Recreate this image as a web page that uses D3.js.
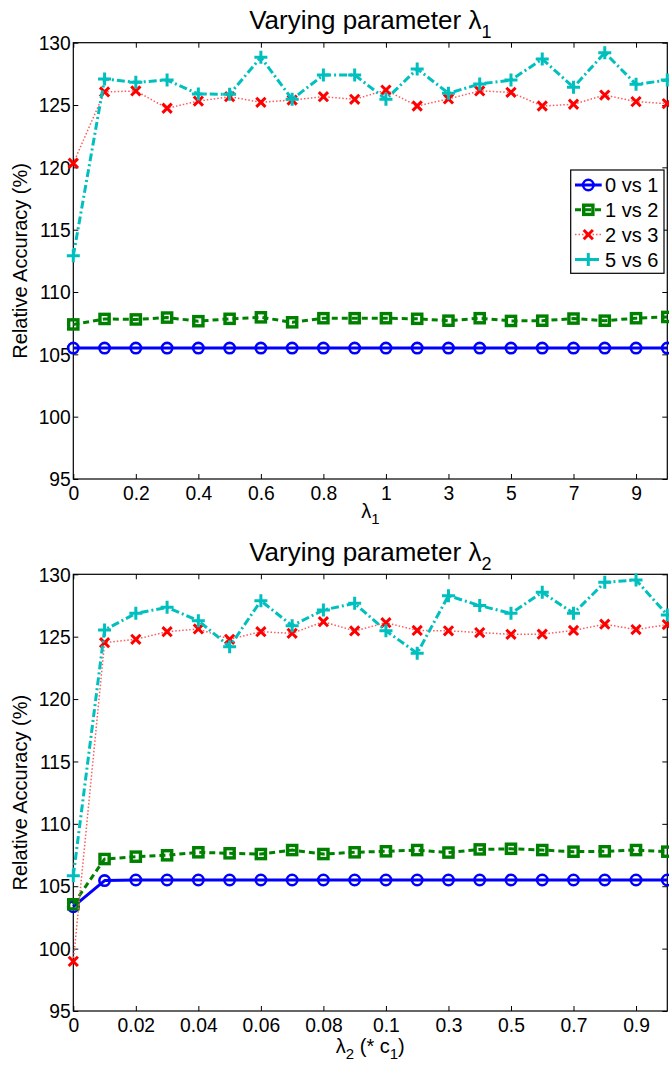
<!DOCTYPE html>
<html>
<head>
<meta charset="utf-8">
<script src="https://cdn.jsdelivr.net/npm/d3@7"></script>
<style>
  html, body { margin: 0; padding: 0; background: #fff; }
  svg { display: block; }
  text { font-family: "Liberation Sans", Arial, Helvetica, sans-serif; fill: #000; }
</style>
</head>
<body>
<svg id="fig" width="669" height="1068"></svg>
<script>
// ---- data ----
const lambda1Values = ["0","0.1","0.2","0.3","0.4","0.5","0.6","0.7","0.8","0.9",
                       "1","2","3","4","5","6","7","8","9","10"];
const lambda2Values = ["0","0.01","0.02","0.03","0.04","0.05","0.06","0.07","0.08","0.09",
                       "0.1","0.2","0.3","0.4","0.5","0.6","0.7","0.8","0.9","1"];
const lambda1Ticks = ["0","0.2","0.4","0.6","0.8","1","3","5","7","9"];
const lambda2Ticks = ["0","0.02","0.04","0.06","0.08","0.1","0.3","0.5","0.7","0.9"];
const yTicks = [95, 100, 105, 110, 115, 120, 125, 130];
const seriesNames = ["0 vs 1", "1 vs 2", "2 vs 3", "5 vs 6"];

// varying lambda1
const l1_0vs1 = [105.5,105.5,105.5,105.5,105.5,105.5,105.5,105.5,105.5,105.5,
                 105.5,105.5,105.5,105.5,105.5,105.5,105.5,105.5,105.5,105.5];
const l1_1vs2 = [107.4,107.84,107.8,107.95,107.66,107.85,107.97,107.57,107.9,107.9,
                 107.9,107.85,107.7,107.9,107.68,107.7,107.87,107.7,107.9,108.0];
const l1_2vs3 = [120.33,126.05,126.13,124.74,125.32,125.67,125.22,125.4,125.67,125.46,
                 126.2,124.92,125.49,126.13,126.02,124.92,125.06,125.8,125.27,125.11];
const l1_5vs6 = [112.9,127.09,126.82,127.0,125.89,125.86,128.83,125.46,127.41,127.41,
                 125.46,127.9,125.94,126.69,127.0,128.69,126.42,129.2,126.66,127.0];

// varying lambda2
const l2_0vs1 = [103.36,105.45,105.5,105.5,105.5,105.5,105.5,105.5,105.5,105.5,
                 105.5,105.5,105.5,105.5,105.5,105.5,105.5,105.5,105.5,105.5];
const l2_1vs2 = [103.55,107.18,107.37,107.48,107.72,107.64,107.58,107.9,107.58,107.72,
                 107.8,107.9,107.7,107.95,108.0,107.9,107.77,107.8,107.9,107.77];
const l2_2vs3 = [98.98,124.52,124.79,125.4,125.62,124.79,125.4,125.27,126.2,125.46,
                 126.12,125.5,125.47,125.33,125.19,125.2,125.5,126.0,125.57,125.97];
const l2_5vs6 = [105.84,125.54,126.87,127.35,126.28,124.2,127.88,125.88,127.14,127.67,
                 125.48,123.67,128.29,127.49,126.87,128.56,126.87,129.36,129.54,126.74];

// ---- styles ----
const styles = [
  { color: "#0000ff", width: 3,   dash: null,      marker: "circle" },
  { color: "#008000", width: 3,   dash: "6,4",     marker: "square" },
  { color: "#ff5a5a", width: 1.5, dash: "1.5,2",   marker: "cross",  markColor: "#ff0000" },
  { color: "#00bfbf", width: 3,   dash: "8,3,2,3", marker: "plus" }
];

const svg = d3.select("#fig");
const TICK_FONT = 19.3;
const LABEL_FONT = 20;
const left = 73.3, right = 667.3;

function drawMarker(g, type, x, y, color) {
  if (type === "circle") {
    g.append("circle").attr("cx", x).attr("cy", y).attr("r", 5.2)
      .attr("fill", "none").attr("stroke", color).attr("stroke-width", 2.6);
  } else if (type === "square") {
    g.append("rect").attr("x", x - 4.6).attr("y", y - 4.6).attr("width", 9.2).attr("height", 9.2)
      .attr("fill", "none").attr("stroke", color).attr("stroke-width", 3.4);
  } else if (type === "cross") {
    const s = 4.6;
    g.append("path").attr("d", `M${x-s},${y-s}L${x+s},${y+s}M${x-s},${y+s}L${x+s},${y-s}`)
      .attr("stroke", color).attr("stroke-width", 3).attr("fill", "none");
  } else if (type === "plus") {
    const s = 6.5;
    g.append("path").attr("d", `M${x-s},${y}L${x+s},${y}M${x},${y-s}L${x},${y+s}`)
      .attr("stroke", color).attr("stroke-width", 3).attr("fill", "none");
  }
}

function drawPanel(cfg) {
  const { top, bottom, cats, ticks, series, title, xlab, xlabOffset, legend } = cfg;
  const x = d3.scalePoint().domain(cats).range([left, right]).padding(0);
  const y = d3.scaleLinear().domain([95, 130]).range([bottom, top]);
  const g = svg.append("g");

  // frame
  g.append("rect").attr("x", left).attr("y", top).attr("width", right - left).attr("height", bottom - top)
    .attr("fill", "none").attr("stroke", "#000").attr("stroke-width", 1.2);

  // axes with inward ticks (bottom/left labelled, top/right mirrored)
  const xb = g.append("g").attr("transform", `translate(0,${bottom})`)
    .call(d3.axisBottom(x).tickValues(ticks).tickSizeInner(-5).tickSizeOuter(0).tickPadding(0));
  const xt = g.append("g").attr("transform", `translate(0,${top})`)
    .call(d3.axisTop(x).tickValues(ticks).tickSizeInner(-5).tickSizeOuter(0).tickFormat(""));
  const yl = g.append("g").attr("transform", `translate(${left},0)`)
    .call(d3.axisLeft(y).tickValues(yTicks).tickSizeInner(-5).tickSizeOuter(0).tickPadding(0));
  const yr = g.append("g").attr("transform", `translate(${right},0)`)
    .call(d3.axisRight(y).tickValues(yTicks).tickSizeInner(-5).tickSizeOuter(0).tickFormat(""));
  [xb, xt, yl, yr].forEach(a => {
    a.select(".domain").remove();
    a.selectAll(".tick line").attr("stroke", "#000").attr("stroke-width", 1);
  });
  xb.selectAll(".tick text").attr("font-size", TICK_FONT).attr("y", 0).attr("dy", null)
    .attr("transform", "translate(0,21.3)").style("font-family", "Liberation Sans, Arial, sans-serif").attr("fill", "#000");
  yl.selectAll(".tick text").attr("font-size", TICK_FONT).attr("x", -2.5).attr("dy", "0.35em")
    .style("font-family", "Liberation Sans, Arial, sans-serif").attr("fill", "#000");

  // series
  series.forEach((vals, i) => {
    const st = styles[i];
    const pts = vals.map((v, j) => [x(cats[j]), y(v)]);
    g.append("path").attr("d", d3.line()(pts)).attr("fill", "none")
      .attr("stroke", st.color).attr("stroke-width", st.width)
      .attr("stroke-dasharray", st.dash).attr("stroke-linejoin", "round");
    const mg = g.append("g");
    pts.forEach(p => drawMarker(mg, st.marker, p[0], p[1], st.markColor || st.color));
  });

  // title
  const cx = (left + right) / 2;
  const t = g.append("text").attr("x", cx).attr("y", top - 13.5).attr("text-anchor", "middle")
    .attr("font-size", 26);
  t.append("tspan").text("Varying parameter λ");
  t.append("tspan").attr("font-size", 18).attr("dy", 9).text(title);

  // x label
  const xl = g.append("text").attr("x", cx).attr("y", bottom + xlabOffset).attr("text-anchor", "middle")
    .attr("font-size", LABEL_FONT);
  xl.append("tspan").text("λ");
  xl.append("tspan").attr("font-size", 15).attr("dy", 6).text(xlab[0]);
  if (xlab.length > 1) {
    xl.append("tspan").attr("dy", -6).text(" (* c");
    xl.append("tspan").attr("font-size", 15).attr("dy", 6).text("1");
    xl.append("tspan").attr("dy", -6).text(")");
  }

  // y label
  g.append("text").attr("transform", `translate(27,${(top + bottom) / 2}) rotate(-90)`)
    .attr("text-anchor", "middle").attr("font-size", LABEL_FONT).text("Relative Accuracy (%)");

  if (legend) {
    const lg = g.append("g");
    const bx = 570.7, by = 170, bw = 93.3, bh = 103.3;
    lg.append("rect").attr("x", bx).attr("y", by).attr("width", bw).attr("height", bh)
      .attr("fill", "#fff").attr("stroke", "#000").attr("stroke-width", 1.2);
    seriesNames.forEach((name, i) => {
      const st = styles[i];
      const cy = 185 + i * 24.8;
      lg.append("line").attr("x1", 575).attr("x2", 601.7).attr("y1", cy).attr("y2", cy)
        .attr("stroke", st.color).attr("stroke-width", st.width).attr("stroke-dasharray", st.dash);
      drawMarker(lg, st.marker, 588.3, cy, st.markColor || st.color);
      lg.append("text").attr("x", 605).attr("y", cy + 7.3).attr("font-size", 20).text(name);
    });
  }
}

drawPanel({ top: 42.7, bottom: 479, cats: lambda1Values, ticks: lambda1Ticks,
            series: [l1_0vs1, l1_1vs2, l1_2vs3, l1_5vs6], title: "1", xlab: ["1"], xlabOffset: 39, legend: true });
drawPanel({ top: 574.3, bottom: 1011, cats: lambda2Values, ticks: lambda2Ticks,
            series: [l2_0vs1, l2_1vs2, l2_2vs3, l2_5vs6], title: "2", xlab: ["2", "c1"], xlabOffset: 41.5, legend: false });
</script>
</body>
</html>
